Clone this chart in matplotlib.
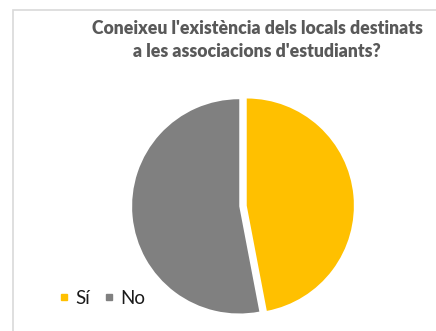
import matplotlib.pyplot as plt
from matplotlib.patches import Rectangle
from matplotlib.lines import Line2D

labels = ["Sí", "No"]
values = [47, 53]
colors = ["#FFC000", "#808080"]
title = "Coneixeu l'existència dels locals destinats\na les associacions d'estudiants?"

plt.rcParams['font.family'] = ['Lato', 'DejaVu Sans']

W, H = 436, 331
fig = plt.figure(figsize=(W / 100, H / 100), dpi=100)

# chart area border (only left/top visible in the crop)
fig.patches.append(Rectangle((13 / W, -0.1), 1.2, 1 - 10 / H + 0.1,
                             transform=fig.transFigure, fill=False,
                             edgecolor="#d9d9d9", linewidth=1.2))

cx, cy, side = 243, 206, 240
ax = fig.add_axes([(cx - side / 2) / W, 1 - (cy + side / 2) / H, side / W, side / H])
ax.pie(values, colors=colors, startangle=90, counterclock=False,
       explode=[0.035, 0.035], wedgeprops=dict(linewidth=0))
ax.set_xlim(-1.12, 1.12)
ax.set_ylim(-1.12, 1.12)
ax.set_aspect("equal")
ax.axis("off")

fig.text(257 / W, 1 - 40 / H, title, ha="center", va="center",
         fontsize=12.7, fontweight="heavy", color="#595959", linespacing=1.45)

handles = [Line2D([], [], marker="s", linestyle="none", markersize=4.5,
                  markerfacecolor=c, markeredgecolor=c) for c in colors]
fig.legend(handles, labels, loc="center left", bbox_to_anchor=(40 / W, 1 - 298 / H),
           ncol=2, frameon=False, fontsize=13.5, handletextpad=0.2,
           columnspacing=0.6, handlelength=0.8, labelcolor="#1a1a1a")

fig.savefig("out.png", dpi=100)
